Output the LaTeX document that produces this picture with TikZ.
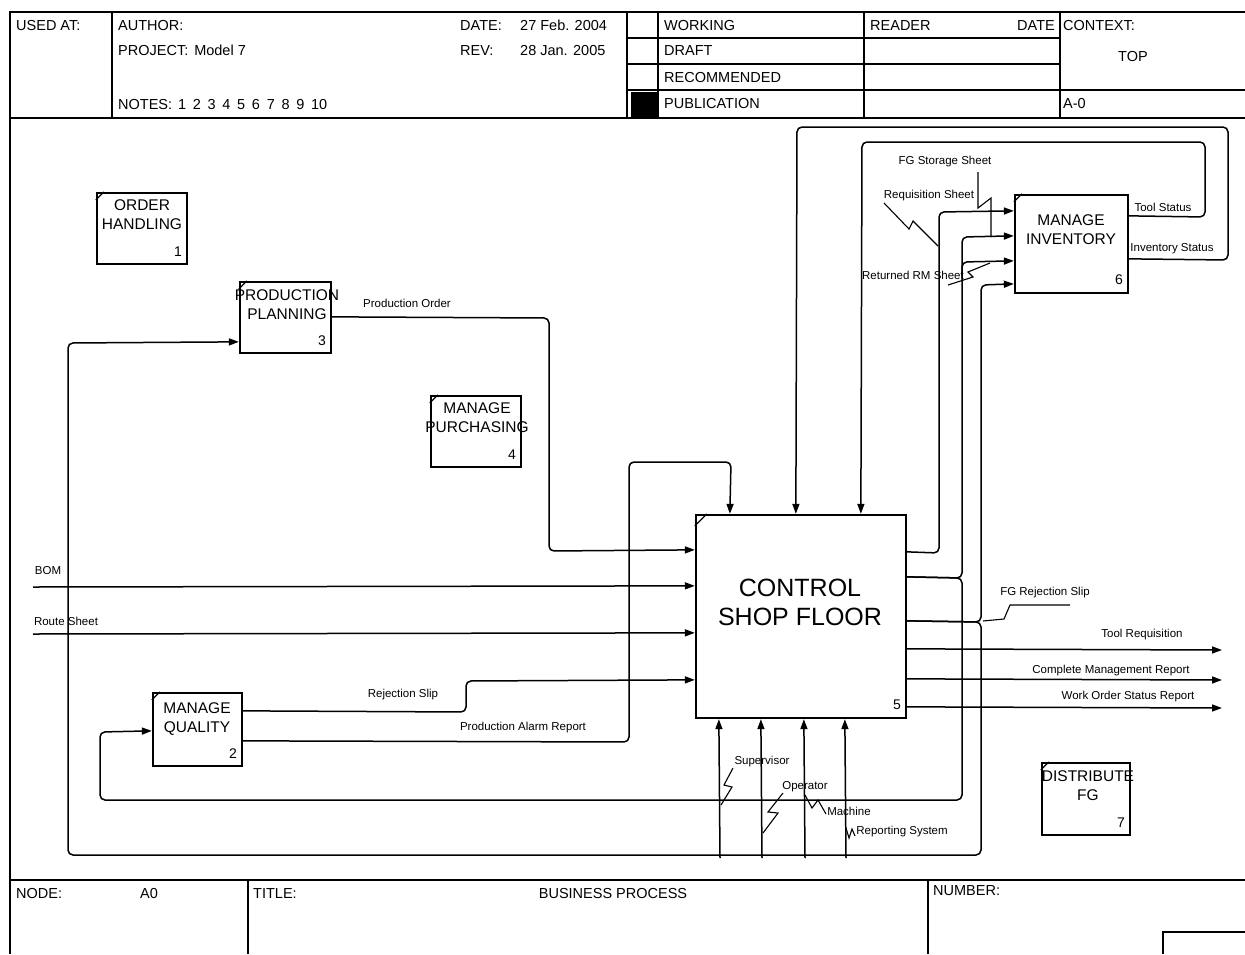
\documentclass[tikz,border=0pt]{standalone}
\usepackage{fontspec}
\setmainfont{Liberation Sans}
\usetikzlibrary{arrows.meta,calc}
\begin{document}
\begin{tikzpicture}[x=1pt,y=-1pt,
  frameline/.style={line width=1.5pt},
  actbox/.style={draw,line width=2.3pt,rectangle,inner sep=0pt},
  boxtxt/.style={font=\fontsize{15.5}{19}\selectfont,align=center,inner sep=0pt,anchor=north},
  bigtxt/.style={font=\fontsize{25}{29}\selectfont,align=center,inner sep=0pt,anchor=north},
  numtxt/.style={font=\fontsize{14}{16}\selectfont,inner sep=0pt,anchor=base east},
  hdr/.style={font=\fontsize{14.5}{17}\selectfont,inner sep=0pt,anchor=base west},
  lbl/.style={font=\fontsize{11.5}{13}\selectfont,inner sep=0pt},
  conn/.style={line width=1.5pt,rounded corners=5pt},
  arr/.style={conn,-{Triangle[length=10pt,width=7pt]}},
  squig/.style={line width=1.1pt},
  cornertick/.style={line width=1.3pt}
]
\useasboundingbox (0,0) rectangle (1245,954);
\fill[white] (0,0) rectangle (1245,954);

% ---------- frame ----------
\draw[frameline] (1245,12) -- (10,12) -- (10,954);
\draw[frameline] (10,118) -- (1245,118);
\draw[frameline] (112,12) -- (112,118);
\draw[frameline] (627,12) -- (627,118);
\draw[frameline] (658,12) -- (658,118);
\draw[frameline] (864,12) -- (864,118);
\draw[frameline] (1060,12) -- (1060,118);
\draw[frameline] (627,38) -- (1060,38) (627,64) -- (1060,64) (627,90) -- (1245,90);
\fill (631,92) rectangle (657,118);
\draw[frameline] (10,880) -- (1245,880);
\draw[frameline] (248,880) -- (248,954) (928,880) -- (928,954);
\draw[frameline] (1163,954) -- (1163,932) -- (1245,932);

% ---------- header text ----------
\node[hdr] (h1) at (16,30) {USED AT:};
\node[hdr] (h2) at (118,30) {AUTHOR:};
\node[hdr] (h3) at (118,55) {PROJECT:\hspace{6pt}Model 7};
\node[hdr] (h4) at (118,109) {NOTES:\hspace{6pt}1\hspace{6.7pt}2\hspace{6.7pt}3\hspace{6.7pt}4\hspace{6.7pt}5\hspace{6.7pt}6\hspace{6.7pt}7\hspace{6.7pt}8\hspace{6.7pt}9\hspace{6.7pt}10};
\node[hdr] (h5) at (460,30) {DATE:};
\node[hdr] (h6) at (520,30) {27 Feb. 2004};
\node[hdr] (h7) at (460,55) {REV:};
\node[hdr] (h8) at (520,55) {28 Jan. 2005};
\node[hdr] (h9) at (664,30) {WORKING};
\node[hdr] (h10) at (664,55) {DRAFT};
\node[hdr] (h11) at (664,82) {RECOMMENDED};
\node[hdr] (h12) at (664,108) {PUBLICATION};
\node[hdr] (h13) at (870,30) {READER};
\node[hdr,anchor=base east] (h14) at (1055,30) {DATE};
\node[hdr] (h15) at (1063,30) {CONTEXT:};
\node[hdr,anchor=base] (h16) at (1133,61) {TOP};
\node[hdr] (h17) at (1063,108) {A-0};
% footer text
\node[hdr] (f1) at (16,898) {NODE:};
\node[hdr] (f2) at (140,898) {A0};
\node[hdr] (f3) at (253,898) {TITLE:};
\node[hdr,anchor=base] (f4) at (613,898) {BUSINESS PROCESS};
\node[hdr] (f5) at (933,895) {NUMBER:};

% ---------- activity boxes ----------
\node[actbox,minimum width=90pt,minimum height=71pt] (oh) at (142,228.5) {};
\node[actbox,minimum width=89pt,minimum height=73pt] (mq) at (197.5,729.5) {};
\node[actbox,minimum width=91pt,minimum height=71pt] (pp) at (285.5,317.5) {};
\node[actbox,minimum width=90pt,minimum height=71pt] (mp) at (476,431.5) {};
\node[actbox,minimum width=210pt,minimum height=203pt] (csf) at (801,616.5) {};
\node[actbox,minimum width=113pt,minimum height=98pt] (mi) at (1071.5,244) {};
\node[actbox,minimum width=88pt,minimum height=72pt] (df) at (1086,799) {};

\foreach \b in {oh,mq,pp,mp,mi,df}
  \draw[cornertick] ($(\b.north west)+(0,8)$) -- ($(\b.north west)+(8,0)$);
\draw[cornertick] ($(csf.north west)+(0,12)$) -- ($(csf.north west)+(12,0)$);

\node[boxtxt] (oh-t) at (142,199.5) {ORDER\\HANDLING};
\node[boxtxt] (pp-t) at (287,289.5) {PRODUCTION\\PLANNING};
\node[boxtxt] (mp-t) at (477,402.5) {MANAGE\\PURCHASING};
\node[boxtxt] (mq-t) at (197,702.5) {MANAGE\\QUALITY};
\node[boxtxt] (mi-t) at (1071,214.5) {MANAGE\\INVENTORY};
\node[boxtxt] (df-t) at (1088,770.5) {DISTRIBUTE\\FG};
\node[bigtxt] (csf-t) at (800,579) {CONTROL\\SHOP FLOOR};

\node[numtxt] (oh-n) at ($(oh.south east)+(-6,-9)$) {1};
\node[numtxt] (mq-n) at ($(mq.south east)+(-6,-9)$) {2};
\node[numtxt] (pp-n) at ($(pp.south east)+(-6,-9)$) {3};
\node[numtxt] (mp-n) at ($(mp.south east)+(-6,-9)$) {4};
\node[numtxt] (csf-n) at ($(csf.south east)+(-6,-10)$) {5};
\node[numtxt] (mi-n) at ($(mi.south east)+(-6,-10)$) {6};
\node[numtxt] (df-n) at ($(df.south east)+(-6,-9)$) {7};

% ---------- attachment points ----------
\coordinate (pp-o1) at ($(pp.north east)+(0,36)$);
\coordinate (pp-i1) at ($(pp.north west)+(0,61)$);
\coordinate (mq-o1) at ($(mq.north east)+(0,19)$);
\coordinate (mq-o2) at ($(mq.north east)+(0,49)$);
\coordinate (mq-i1) at ($(mq.north west)+(0,39)$);
\coordinate (csf-i1) at ($(csf.north west)+(0,36)$);
\coordinate (csf-i2) at ($(csf.north west)+(0,72)$);
\coordinate (csf-i3) at ($(csf.north west)+(0,119)$);
\coordinate (csf-i4) at ($(csf.north west)+(0,166)$);
\coordinate (csf-c1) at ($(csf.north west)+(35,0)$);
\coordinate (csf-c2) at ($(csf.north west)+(101,0)$);
\coordinate (csf-c3) at ($(csf.north west)+(166,0)$);
\coordinate (csf-o1) at ($(csf.north east)+(0,38)$);
\coordinate (csf-o2) at ($(csf.north east)+(0,63)$);
\coordinate (csf-o3) at ($(csf.north east)+(0,107)$);
\coordinate (csf-o4) at ($(csf.north east)+(0,135)$);
\coordinate (csf-o5) at ($(csf.north east)+(0,165)$);
\coordinate (csf-o6) at ($(csf.north east)+(0,193)$);
\coordinate (csf-m1) at ($(csf.south west)+(24,0)$);
\coordinate (csf-m2) at ($(csf.south west)+(66,0)$);
\coordinate (csf-m3) at ($(csf.south west)+(109,0)$);
\coordinate (csf-m4) at ($(csf.south west)+(150,0)$);
\coordinate (mi-i1) at ($(mi.north west)+(0,17)$);
\coordinate (mi-i2) at ($(mi.north west)+(0,42)$);
\coordinate (mi-i3) at ($(mi.north west)+(0,67)$);
\coordinate (mi-i4) at ($(mi.north west)+(0,90)$);
\coordinate (mi-o1) at ($(mi.north east)+(0,22)$);
\coordinate (mi-o2) at ($(mi.north east)+(0,65)$);
% free ends
\coordinate (bom-s) at (33,587);
\coordinate (rs-s) at (33,634);
\coordinate (br3) at (962,276);
\coordinate (tr-e) at (1222,650);
\coordinate (cmr-e) at (1222,680);
\coordinate (wos-e) at (1222,708);
\coordinate (m1-s) at (720,858);
\coordinate (m2-s) at (762,858);
\coordinate (m3-s) at (805,858);
\coordinate (m4-s) at (846,858);

% ---------- connectors ----------
\draw[arr] (pp-o1) -- (549,318) -- (549,551) -- (csf-i1);
\draw[arr] (bom-s) -- (csf-i2);
\draw[arr] (rs-s) -- (csf-i3);
\draw[arr] (mq-o1) -- (466,712) -- (466,681) -- (csf-i4);
\draw[arr] (mq-o2) -- (629,742) -- (629,462) -- (731,462) -- (csf-c1);
\draw[arr] (mi-o2) -- (1228,260) -- (1228,127) -- (797,127) -- (csf-c2);
\draw[arr] (mi-o1) -- (1205,217) -- (1205,142) -- (862,142) -- (csf-c3);
\draw[arr] (csf-o1) -- (939,553) -- (939,212) -- (mi-i1);
\draw[arr] (csf-o2) -- (962,578) -- (962,237) -- (mi-i2);
\draw[arr] (csf-o2) -- (962,578) -- (962,800) -- (100,800) -- (100,732) -- (mq-i1);
\draw[arr] (br3) -- (962,262) -- (mi-i3);
\draw[arr] (csf-o3) -- (981,622) -- (981,285) -- (mi-i4);
\draw[arr] (csf-o3) -- (981,622) -- (981,855) -- (68,855) -- (68,343) -- (pp-i1);
\draw[arr] (csf-o4) -- (tr-e);
\draw[arr] (csf-o5) -- (cmr-e);
\draw[arr] (csf-o6) -- (wos-e);
\draw[arr] (m1-s) -- (csf-m1);
\draw[arr] (m2-s) -- (csf-m2);
\draw[arr] (m3-s) -- (csf-m3);
\draw[arr] (m4-s) -- (csf-m4);

% ---------- squiggles ----------
\draw[squig] (884,203) -- (909,229) -- (913,221) -- (938,246);
\draw[squig] (978,172) -- (978,208) -- (991,198) -- (991,237);
\draw[squig] (948,285) -- (973,277) -- (968,272) -- (990,263);
\draw[squig] (733,768) -- (724,785) -- (732,787) -- (721,805);
\draw[squig] (783,793) -- (768,812) -- (778,813) -- (763,833);
\draw[squig] (805,795) -- (812,808) -- (818,800) -- (826,814);
\draw[squig] (846,828) -- (849,838) -- (852,829) -- (855,836);
\draw[squig] (983,621) -- (1004,619) -- (1010,605) -- (1070,605);

% ---------- labels ----------
\node[lbl] (l-bom) at (48,571) {BOM};
\node[lbl] (l-rs) at (66,621) {Route Sheet};
\node[lbl] (l-po) at (407,303) {Production Order};
\node[lbl] (l-rj) at (403,695) {Rejection Slip};
\node[lbl] (l-par) at (523,728) {Production Alarm Report};
\node[lbl] (l-fgs) at (945,162) {FG Storage Sheet};
\node[lbl] (l-req) at (929,196) {Requisition Sheet};
\node[lbl] (l-rm) at (913,275) {Returned RM Sheet};
\node[lbl] (l-ts) at (1163,207) {Tool Status};
\node[lbl] (l-is) at (1172,249) {Inventory Status};
\node[lbl] (l-fgr) at (1045,593) {FG Rejection Slip};
\node[lbl] (l-tr) at (1142,635) {Tool Requisition};
\node[lbl] (l-cmr) at (1111,671) {Complete Management Report};
\node[lbl] (l-wos) at (1128,697) {Work Order Status Report};
\node[lbl] (l-sup) at (762,762) {Supervisor};
\node[lbl] (l-op) at (805,787) {Operator};
\node[lbl] (l-ma) at (849,811) {Machine};
\node[lbl] (l-rep) at (902,832) {Reporting System};
\end{tikzpicture}
\end{document}
